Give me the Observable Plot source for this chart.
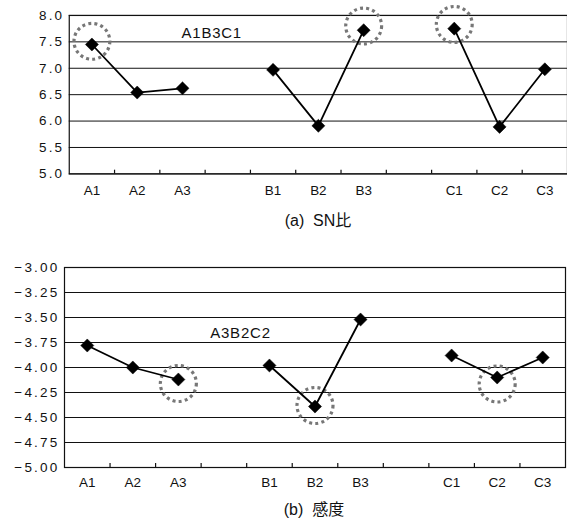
<!DOCTYPE html>
<html><head><meta charset="utf-8">
<script src="https://cdn.jsdelivr.net/npm/d3@7"></script>
<script src="https://cdn.jsdelivr.net/npm/@observablehq/plot@0.6"></script>
<style>
html,body{margin:0;padding:0;background:#fff;}
body{overflow:hidden;width:567px;height:522px;position:relative;font-family:"Liberation Sans",Arial,sans-serif;}
#a,#b{position:absolute;left:0;}
#a{top:0;} #b{top:250px;}
.cap{position:absolute;font-size:16px;color:#111;transform:translateX(-50%);white-space:pre;font-family:"Liberation Sans","Noto Sans CJK JP",sans-serif;line-height:1;}
svg g[aria-label="y-axis tick label"] text{letter-spacing:2.2px;}
svg g[aria-label="text"] text{letter-spacing:0.8px;}
</style></head><body>
<div id="a"></div><div class="cap" style="left:318px;top:213px">(a)  SN比</div>
<div id="b"></div><div class="cap" style="left:314px;top:502px">(b)  感度</div>
<script>
const categories = ["A1","A2","A3","B1","B2","B3","C1","C2","C3"];
const factors = ["A","A","A","B","B","B","C","C","C"];
const snValues = [7.45, 6.54, 6.62, 6.97, 5.91, 7.72, 7.75, 5.89, 6.98];
const sensValues = [-3.78, -4.00, -4.12, -3.98, -4.39, -3.52, -3.88, -4.10, -3.90];
const snTicks = [5.0, 5.5, 6.0, 6.5, 7.0, 7.5, 8.0];
const sensTicks = [-5.00, -4.75, -4.50, -4.25, -4.00, -3.75, -3.50, -3.25, -3.00];
const snCircled = ["A1", "B3", "C1"];
const snCircleValues = [7.51, 7.80, 7.83];
const sensCircled = ["A3", "B2", "C2"];
const sensCircleValues = [-4.16, -4.38, -4.165];
const snNote = "A1B3C1";
const sensNote = "A3B2C2";

// slot position of each category (three groups with an empty slot between)
const slotOf = c => { const i = categories.indexOf(c); return i + Math.floor(i / 3) + 0.5; };
const slots = categories.map(slotOf);
const boundaries = d3.range(1, 11);

function chart({values, ticks, fmt, circled, circleValues, note, width, marginLeft, marginRight, marginTop, marginBottom, height, tickLen, noteDx, noteDy, xPad}) {
  const data = categories.map((c, i) => ({x: slotOf(c), y: values[i], f: factors[i]}));
  const circles = circled.map((c, i) => ({x: slotOf(c), y: circleValues[i]}));
  const y0 = d3.min(ticks), y1 = d3.max(ticks);
  return Plot.plot({
    width, height, marginLeft, marginRight, marginTop, marginBottom,
    style: {fontFamily: "Liberation Sans, Arial, sans-serif", fontSize: "13px", color: "#111", background: "#fff", overflow: "visible"},
    x: {domain: [0, 11], axis: null},
    y: {domain: [y0, y1], axis: null},
    marks: [
      Plot.ruleY(ticks, {stroke: "#111", strokeWidth: 1}),
      Plot.frame({stroke: "#111", strokeWidth: 1.2}),
      Plot.ruleX(boundaries, {y1: y0, y2: y0 + tickLen, stroke: "#111", strokeWidth: 1.2}),
      Plot.axisY({ticks, tickFormat: d3.format(fmt), tickSize: 0, tickPadding: 5, fontSize: 13.5, label: null}),
      Plot.axisX({ticks: slots, tickFormat: d => categories[slots.indexOf(d)], tickSize: 0, tickPadding: xPad, fontSize: 13.5, label: null}),
      Plot.dot(circles, {x: "x", y: "y", r: 18, fill: "none", stroke: "#777", strokeWidth: 3.2, strokeDasharray: "3,3.2"}),
      Plot.line(data, {x: "x", y: "y", z: "f", stroke: "#000", strokeWidth: 1.8}),
      Plot.dot(data, {x: "x", y: "y", symbol: "diamond2", r: 5.9, fill: "#000", stroke: "#000", strokeWidth: 0.5}),
      Plot.text([note], {frameAnchor: "top-left", dx: noteDx, dy: noteDy, text: d => d, textAnchor: "middle", fontSize: 15, fill: "#111"})
    ]
  });
}

document.getElementById("a").append(chart({
  values: snValues, ticks: snTicks, fmt: ".1f", circled: snCircled, circleValues: snCircleValues, note: snNote,
  width: 569, marginLeft: 69, marginRight: 0, marginTop: 15, marginBottom: 30, height: 204, tickLen: 0.07, noteDx: 143, noteDy: 12, xPad: 12
}));
document.getElementById("b").append(chart({
  values: sensValues, ticks: sensTicks, fmt: ".2f", circled: sensCircled, circleValues: sensCircleValues, note: sensNote,
  width: 567, marginLeft: 64, marginRight: 2, marginTop: 17, marginBottom: 30, height: 247, tickLen: 0.04, noteDx: 176, noteDy: 60, xPad: 10
}));
</script>
</body></html>
